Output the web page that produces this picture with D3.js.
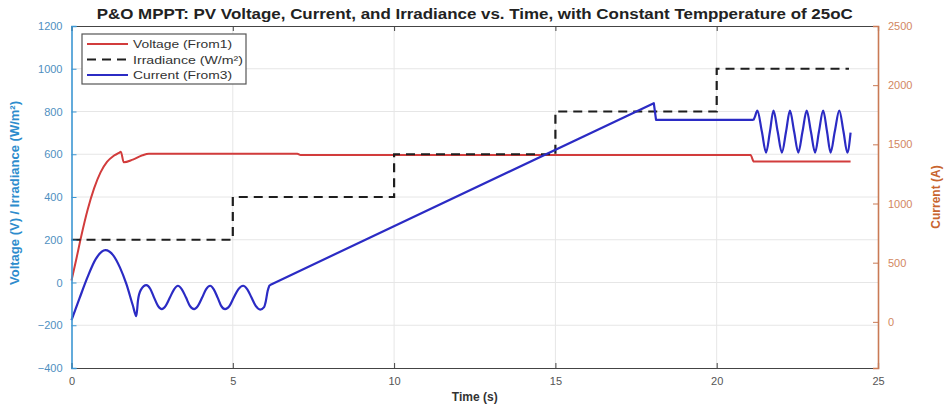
<!DOCTYPE html>
<html>
<head>
<meta charset="utf-8">
<script src="https://cdn.jsdelivr.net/npm/d3@7"></script>
<style>
body { margin: 0; background: #fff; }
svg { font-family: "Liberation Sans", Arial, sans-serif; }
</style>
</head>
<body>
<div id="chart"></div>
<script>
var title = "P&O MPPT: PV Voltage, Current, and Irradiance vs. Time, with Constant Tempperature of 25oC";
var timeTicks = [0, 5, 10, 15, 20, 25];
var leftTicks = [-400, -200, 0, 200, 400, 600, 800, 1000, 1200];
var rightTicks = [0, 500, 1000, 1500, 2000, 2500];

// voltage (V), left axis
var voltageT = [0, 0.15, 0.3, 0.5, 0.7, 0.9, 1.1, 1.3, 1.47, 1.53, 1.62, 1.9, 2.2, 2.4, 7.0, 7.1, 21.05, 21.15, 24.15];
var voltageV = [9, 110, 215, 340, 440, 515, 564, 592, 606, 612, 562, 575, 595, 602, 602, 596, 596, 566, 566];

// irradiance (W/m2), left axis
var irradianceT = [0, 5, 5, 10, 10, 15, 15, 20, 20, 24.1];
var irradianceV = [200, 200, 400, 400, 600, 600, 800, 800, 1000, 1000];

// current (A), right axis
var currentT = [0, 0.25, 0.5, 0.75, 1.05, 1.3, 1.5, 1.7, 1.9, 2.01, 2.06, 2.15, 2.32,
  2.44, 2.56, 2.68, 2.8, 2.92, 3.05, 3.18, 3.3, 3.42, 3.55, 3.67, 3.8, 3.92, 4.05,
  4.17, 4.3, 4.41, 4.53, 4.64, 4.76, 4.9, 5.03, 5.17, 5.32, 5.45, 5.58, 5.71, 5.85,
  5.97, 6.02, 6.08, 6.14, 18.05, 18.12, 21.14, 21.18, 21.26, 21.4, 21.53, 21.65, 21.76,
  21.89, 22.02, 22.15, 22.27, 22.4, 22.53, 22.66, 22.79, 22.92, 23.05, 23.17, 23.3,
  23.42, 23.53, 23.66, 23.8, 23.93, 24.05, 24.15];
var currentA = [14, 200, 380, 530, 606, 560, 460, 320, 140, 48, 180, 270, 310,
  280, 205, 135, 107, 135, 205, 275, 305, 275, 205, 135, 107, 135, 205,
  275, 305, 275, 205, 135, 107, 135, 205, 275, 305, 275, 205, 135, 104,
  125, 170, 260, 310, 1848, 1706, 1706, 1730, 1785, 1608, 1430, 1608, 1785,
  1608, 1430, 1608, 1785, 1608, 1430, 1608, 1785, 1608, 1430, 1608, 1785,
  1608, 1430, 1608, 1785, 1608, 1430, 1599];

// the current ramps linearly between these times, smooth elsewhere
var rampStart = 6.14, rampEnd = 21.14;

var W = 947, H = 407;
var m = { left: 71.5, right: 878, top: 26, bottom: 368 };

var svg = d3.select("#chart").append("svg")
  .attr("width", W)
  .attr("height", H);

var x = d3.scaleLinear().domain([0, 25]).range([m.left, m.right]);
var yL = d3.scaleLinear().domain([-400, 1200]).range([m.bottom, m.top]);
var yR = d3.scaleLinear().domain([-390, 2500]).range([m.bottom, m.top]);

// grid
var grid = svg.append("g").attr("stroke", "#e6e6e6").attr("stroke-width", 1);
grid.selectAll(".gx").data(timeTicks.slice(1, -1)).enter().append("line")
  .attr("x1", function(d) { return x(d); }).attr("x2", function(d) { return x(d); })
  .attr("y1", m.top).attr("y2", m.bottom);
grid.selectAll(".gy").data(leftTicks.slice(1, -1)).enter().append("line")
  .attr("y1", function(d) { return yL(d); }).attr("y2", function(d) { return yL(d); })
  .attr("x1", m.left).attr("x2", m.right);

function zip(ts, vs) {
  return ts.map(function(t, i) { return [t, vs[i]]; });
}

var lineL = d3.line().x(function(d) { return x(d[0]); }).y(function(d) { return yL(d[1]); });
var lineLs = d3.line().curve(d3.curveMonotoneX)
  .x(function(d) { return x(d[0]); }).y(function(d) { return yL(d[1]); });
var lineR = d3.line()
  .x(function(d) { return x(d[0]); }).y(function(d) { return yR(d[1]); });
var lineRs = d3.line().curve(d3.curveMonotoneX)
  .x(function(d) { return x(d[0]); }).y(function(d) { return yR(d[1]); });

svg.append("path").datum(zip(voltageT, voltageV))
  .attr("d", lineLs).attr("fill", "none")
  .attr("stroke", "#d23c3c").attr("stroke-width", 2);

svg.append("path").datum(zip(irradianceT, irradianceV))
  .attr("d", lineL).attr("fill", "none")
  .attr("stroke", "#1e1e1e").attr("stroke-width", 2.2)
  .attr("stroke-dasharray", "9,6");

var cur = zip(currentT, currentA);
var curParts = [
  { pts: cur.filter(function(d) { return d[0] <= rampStart; }), gen: lineRs },
  { pts: cur.filter(function(d) { return d[0] >= rampStart && d[0] <= rampEnd; }), gen: lineR },
  { pts: cur.filter(function(d) { return d[0] >= rampEnd; }), gen: lineRs }
];
svg.append("path")
  .attr("d", curParts.map(function(p) { return p.gen(p.pts); }).join(""))
  .attr("fill", "none")
  .attr("stroke", "#2b2bc4").attr("stroke-width", 2.2)
  .attr("stroke-linejoin", "round");

// axes
var fmt = d3.format("d");
var ax = svg.append("g");
ax.append("g").attr("transform", "translate(0," + m.bottom + ")")
  .call(d3.axisBottom(x).tickValues(timeTicks).tickSize(-5).tickPadding(9).tickFormat(fmt));
ax.append("g").attr("transform", "translate(0," + m.top + ")")
  .call(d3.axisTop(x).tickValues(timeTicks).tickSize(-5).tickFormat(""));
var axL = ax.append("g").attr("transform", "translate(" + m.left + ",0)")
  .call(d3.axisLeft(yL).tickValues(leftTicks).tickSize(-5).tickPadding(9).tickFormat(fmt));
var axR = ax.append("g").attr("transform", "translate(" + m.right + ",0)")
  .call(d3.axisRight(yR).tickValues(rightTicks).tickSize(-5).tickPadding(10).tickFormat(fmt));

ax.selectAll(".domain").attr("stroke", "#444").attr("stroke-width", 1.2);
ax.selectAll(".tick line").attr("stroke", "#444");
ax.selectAll(".tick text").attr("font-size", 11).attr("fill", "#555")
  .attr("font-family", "'Liberation Sans', Arial, sans-serif");
axL.select(".domain").attr("stroke", "#3d97d3").attr("stroke-width", 1.6);
axL.selectAll(".tick line").attr("stroke", "#3d97d3");
axL.selectAll(".tick text").attr("fill", "#4f8fbf");
axR.select(".domain").attr("stroke", "#c97a55").attr("stroke-width", 1.6);
axR.selectAll(".tick line").attr("stroke", "#c97a55");
axR.selectAll(".tick text").attr("fill", "#d2875f");

// titles
svg.append("text").attr("x", (m.left + m.right) / 2).attr("y", 19)
  .attr("text-anchor", "middle").attr("font-weight", "bold").attr("font-size", 14)
  .attr("textLength", 756).attr("lengthAdjust", "spacingAndGlyphs")
  .attr("fill", "#222").text(title);
svg.append("text").attr("x", (m.left + m.right) / 2).attr("y", 401)
  .attr("text-anchor", "middle").attr("font-weight", "bold").attr("font-size", 12)
  .attr("fill", "#333").text("Time (s)");
svg.append("text").attr("transform", "translate(19," + 193 + ") rotate(-90)")
  .attr("text-anchor", "middle").attr("font-weight", "bold").attr("font-size", 13)
  .attr("fill", "#2d8ccd").text("Voltage (V) / Irradiance (W/m²)");
svg.append("text").attr("transform", "translate(940,197) rotate(-90)")
  .attr("text-anchor", "middle").attr("font-weight", "bold").attr("font-size", 12)
  .attr("fill", "#c8652e").text("Current (A)");

// legend
var legendItems = [
  { name: "Voltage (From1)", color: "#d23c3c", dash: null, len: 99 },
  { name: "Irradiance (W/m²)", color: "#1e1e1e", dash: "9,6", len: 110 },
  { name: "Current (From3)", color: "#2b2bc4", dash: null, len: 99 }
];
var lg = svg.append("g").attr("transform", "translate(82,34)");
lg.append("rect").attr("width", 164).attr("height", 50)
  .attr("fill", "#fff").attr("stroke", "#555").attr("stroke-width", 1.2);
var li = lg.selectAll(".li").data(legendItems).enter().append("g")
  .attr("transform", function(d, i) { return "translate(0," + (10 + i * 15.5) + ")"; });
li.append("line").attr("x1", 5).attr("x2", 46)
  .attr("stroke", function(d) { return d.color; }).attr("stroke-width", 2)
  .attr("stroke-dasharray", function(d) { return d.dash; });
li.append("text").attr("x", 51).attr("y", 4).attr("font-size", 11).attr("fill", "#333")
  .attr("textLength", function(d) { return d.len; }).attr("lengthAdjust", "spacingAndGlyphs")
  .text(function(d) { return d.name; });
</script>
</body>
</html>
